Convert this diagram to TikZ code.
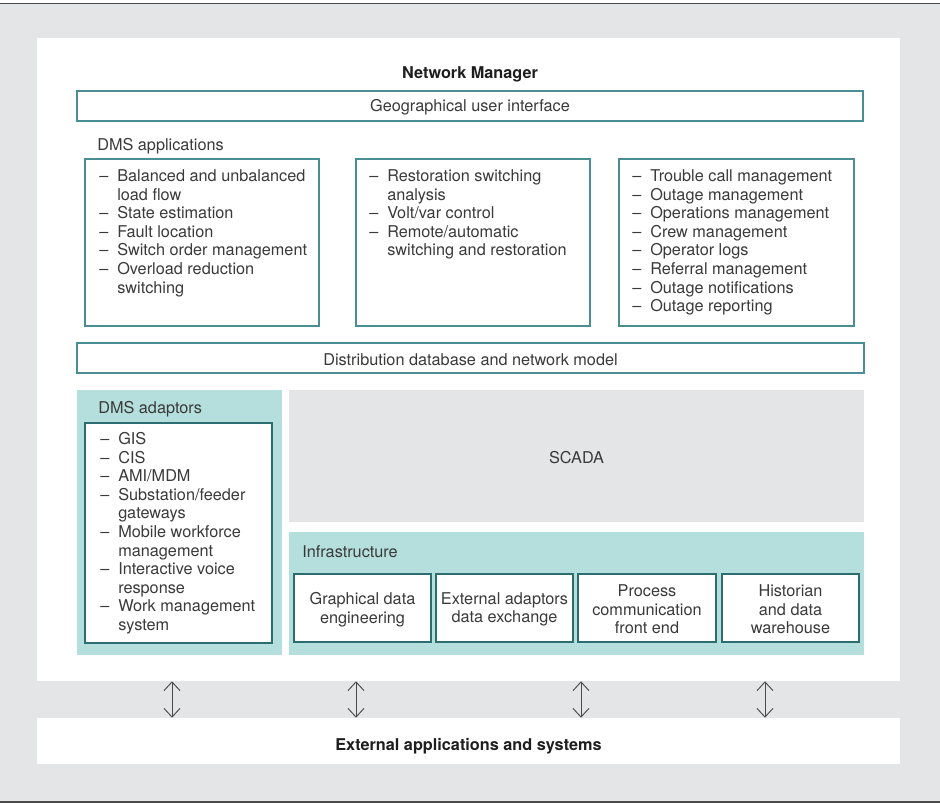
\documentclass[tikz,border=0pt]{standalone}
\usepackage{fontspec}
\setmainfont{TeX Gyre Heros}
\usetikzlibrary{fit,arrows.meta}

\definecolor{bggray}{HTML}{E4E5E7}
\definecolor{tealfill}{HTML}{B4DFDD}
\definecolor{tealline}{HTML}{4A8E92}
\definecolor{darkteal}{HTML}{2B6D71}
\definecolor{txt}{HTML}{3A3A3A}
\definecolor{headtxt}{HTML}{1E1E1E}
\definecolor{rulecol}{HTML}{4A4A4A}

% list items with an en dash and a hanging indent
\newcommand\li[1]{\makebox[13.5pt][l]{–}#1}
\newcommand\lc[1]{\hspace*{13.5pt}#1}
\newcommand\dashlist[1]{\begin{tabular}[t]{@{}l@{}}#1\end{tabular}}

\begin{document}
\begin{tikzpicture}[
  x=0.75pt, y=-0.75pt,
  font=\fontsize{12.2}{13.95}\selectfont, text=txt,
  box/.style={draw=tealline, line width=0.8pt, fill=white, inner sep=0pt},
  inbox/.style={draw=darkteal, line width=0.8pt, fill=white, inner sep=0pt},
  panel/.style={fill=tealfill, inner sep=0pt},
  greybox/.style={fill=bggray, inner sep=0pt},
  centertext/.style={inner sep=0pt, align=center, yshift=-1.1pt},
  heading/.style={inner sep=0pt, font=\fontsize{12.2}{14}\selectfont\bfseries, text=headtxt},
  listtext/.style={anchor=base west, inner sep=0pt},
  plain/.style={anchor=base west, inner sep=0pt},
  biarrow/.style={{Straight Barb[length=6.5pt,width=12pt]}-{Straight Barb[length=6.5pt,width=12pt]},
                  draw=rulecol, line width=0.7pt}
]
\useasboundingbox (0,0) rectangle (940,803);

% frame
\fill[bggray] (0,4) rectangle (940,802);
\draw[rulecol, line width=1.1pt] (0,3.5) -- (940,3.5);
\draw[rulecol, line width=1.1pt] (0,802) -- (940,802);

% Network Manager panel
\node[fill=white, inner sep=0pt, fit={(37,38) (900,681)}] (nm) {};
\node[heading] (nmtitle) at (470,74) {Network Manager};

\node[box, fit={(77,91) (863,121)}] (gui) {};
\node[centertext] (guitxt) at (gui.center) {Geographical user interface};

\node[plain] (dmsapp) at (97,150.5) {DMS applications};

\node[box, fit={(85,159) (319,326)}] (app1) {};
\node[box, fit={(356,159) (590,326)}] (app2) {};
\node[box, fit={(619,159) (854,326)}] (app3) {};

\node[listtext] (app1txt) at (99,181.5) {\dashlist{%
  \li{Balanced and unbalanced}\\
  \lc{load flow}\\
  \li{State estimation}\\
  \li{Fault location}\\
  \li{Switch order management}\\
  \li{Overload reduction}\\
  \lc{switching}}};

\node[listtext] (app2txt) at (369,181.5) {\dashlist{%
  \li{Restoration switching}\\
  \lc{analysis}\\
  \li{Volt/var control}\\
  \li{Remote/automatic}\\
  \lc{switching and restoration}}};

\node[listtext] (app3txt) at (632,181.5) {\dashlist{%
  \li{Trouble call management}\\
  \li{Outage management}\\
  \li{Operations management}\\
  \li{Crew management}\\
  \li{Operator logs}\\
  \li{Referral management}\\
  \li{Outage notifications}\\
  \li{Outage reporting}}};

\node[box, fit={(77,343) (864,373)}] (db) {};
\node[centertext] (dbtxt) at (db.center) {Distribution database and network model};

% DMS adaptors
\node[panel, fit={(77,390) (282,655)}] (adp) {};
\node[plain] (adptitle) at (98,413.5) {DMS adaptors};
\node[inbox, fit={(85,423) (272,643)}] (adpbox) {};
\node[listtext] (adptxt) at (100,444.5) {\dashlist{%
  \li{GIS}\\
  \li{CIS}\\
  \li{AMI/MDM}\\
  \li{Substation/feeder}\\
  \lc{gateways}\\
  \li{Mobile workforce}\\
  \lc{management}\\
  \li{Interactive voice}\\
  \lc{response}\\
  \li{Work management}\\
  \lc{system}}};

% SCADA
\node[greybox, fit={(289,390) (864,522)}] (scada) {};
\node[centertext] (scadatxt) at (scada.center) {SCADA};

% Infrastructure
\node[panel, fit={(289,532) (864,655)}] (infra) {};
\node[plain] (infratitle) at (302,557.5) {Infrastructure};
\node[inbox, fit={(294,574) (431,642)}] (ib1) {};
\node[inbox, fit={(436,574) (573,642)}] (ib2) {};
\node[inbox, fit={(578,574) (716,642)}] (ib3) {};
\node[inbox, fit={(722,574) (859,642)}] (ib4) {};
\node[centertext] (ib1txt) at (ib1.center) {Graphical data\\engineering};
\node[centertext] (ib2txt) at (ib2.center) {External adaptors\\data exchange};
\node[centertext] (ib3txt) at (ib3.center) {Process\\communication\\front end};
\node[centertext] (ib4txt) at (ib4.center) {Historian\\and data\\warehouse};

% External applications
\node[fill=white, inner sep=0pt, fit={(37,718) (900,764)}] (ext) {};
\node[heading, yshift=-3.6pt] (exttxt) at (ext.center) {External applications and systems};

% two-way links
\coordinate (l1) at (172,700);
\coordinate (l2) at (356,700);
\coordinate (l3) at (581,700);
\coordinate (l4) at (765,700);
\foreach \c in {l1,l2,l3,l4}
  \draw[biarrow] (\c |- nm.south) -- (\c |- ext.north);

\end{tikzpicture}
\end{document}
